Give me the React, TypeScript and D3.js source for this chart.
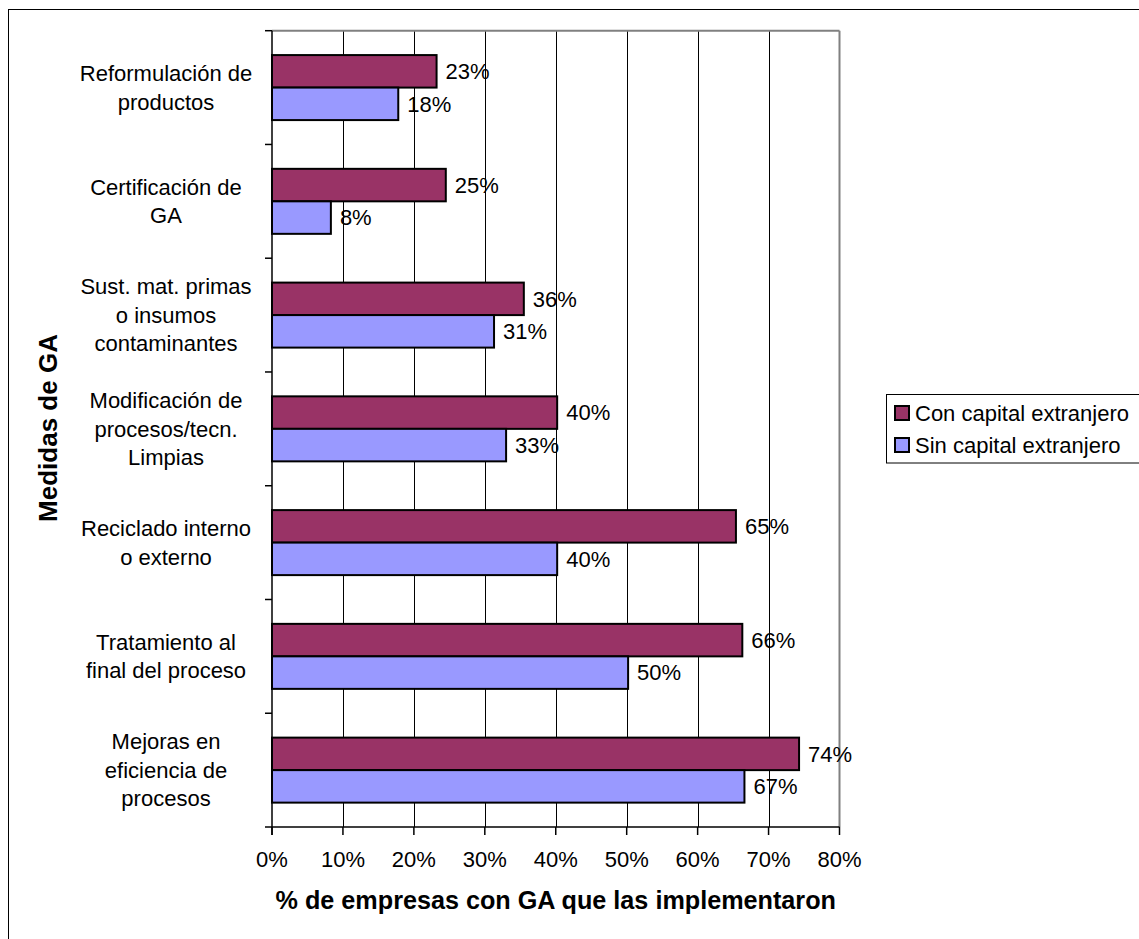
import React from "react";
import * as d3 from "d3";

const categories: string[] = [
  "Reformulación de\nproductos",
  "Certificación de\nGA",
  "Sust. mat. primas\no insumos\ncontaminantes",
  "Modificación de\nprocesos/tecn.\nLimpias",
  "Reciclado interno\no externo",
  "Tratamiento al\nfinal del proceso",
  "Mejoras en\neficiencia de\nprocesos",
];
const conCapital: number[] = [23.2, 24.5, 35.5, 40.2, 65.4, 66.3, 74.3];
const sinCapital: number[] = [17.8, 8.3, 31.3, 33.0, 40.2, 50.2, 66.6];
const conLabels: string[] = ["23%", "25%", "36%", "40%", "65%", "66%", "74%"];
const sinLabels: string[] = ["18%", "8%", "31%", "33%", "40%", "50%", "67%"];
const seriesNames: string[] = ["Con capital extranjero", "Sin capital extranjero"];
const seriesColors: string[] = ["#993366", "#9999FF"];
const xTicks: number[] = [0, 10, 20, 30, 40, 50, 60, 70, 80];
const xTitle = "% de empresas con GA que las implementaron";
const yTitle = "Medidas de GA";

const W = 1139;
const H = 939;
const FONT = "Liberation Sans, Arial, sans-serif";

export default function App() {
  const left = 272;
  const right = 839.5;
  const top = 30.7;
  const bottom = 827;
  const x = d3.scaleLinear().domain([0, 80]).range([left, right]);
  const y = d3.scaleBand<string>().domain(categories).range([top, bottom]).padding(0);
  const bw = y.bandwidth();
  const barH = bw / 3.5;
  const pad = (bw - 2 * barH) / 2;
  const fs = 22;
  const tfs = 25.2;

  const series = [
    { values: conCapital, labels: conLabels, color: seriesColors[0], off: 0 },
    { values: sinCapital, labels: sinLabels, color: seriesColors[1], off: 1 },
  ];

  return (
    <div style={{ position: "absolute", left: 0, top: 0, width: W, height: H, overflow: "hidden", background: "#fff" }}>
      <svg width={W} height={H} style={{ display: "block", fontFamily: FONT }}>
        <rect x={8.5} y={9.5} width={1300} height={1200} fill="#fff" stroke="#000" strokeWidth={1} />
        {/* gridlines */}
        {xTicks.slice(1, -1).map((t) => (
          <line key={"g" + t} x1={Math.round(x(t)) + 0.5} x2={Math.round(x(t)) + 0.5} y1={top} y2={bottom} stroke="#000" strokeWidth={1} />
        ))}
        {/* plot border top/right */}
        <line x1={left} x2={right} y1={top} y2={top} stroke="#808080" strokeWidth={2} />
        <line x1={right} x2={right} y1={top} y2={bottom} stroke="#808080" strokeWidth={2} />
        {/* bars */}
        {series.map((s, si) =>
          categories.map((c, i) => {
            const y0 = (y(c) as number) + pad + s.off * barH;
            return (
              <g key={si + "-" + i}>
                <rect x={x(0)} y={y0} width={x(s.values[i]) - x(0)} height={barH} fill={s.color} stroke="#000" strokeWidth={2} />
                <text x={x(s.values[i]) + 9} y={y0 + barH / 2 + fs * 0.358} fontSize={fs} fill="#000">
                  {s.labels[i]}
                </text>
              </g>
            );
          })
        )}
        {/* axes */}
        <line x1={left} x2={left} y1={top} y2={bottom + 8} stroke="#000" strokeWidth={1.5} />
        <line x1={left - 7} x2={right} y1={bottom} y2={bottom} stroke="#000" strokeWidth={1.5} />
        {categories.map((c, i) => (
          <line key={"yt" + i} x1={left - 7} x2={left} y1={y(c) as number} y2={y(c) as number} stroke="#000" strokeWidth={1.5} />
        ))}
        {xTicks.map((t) => (
          <g key={"xt" + t}>
            <line x1={x(t)} x2={x(t)} y1={bottom} y2={bottom + 8} stroke="#000" strokeWidth={1.5} />
            <text x={x(t)} y={867} fontSize={fs} textAnchor="middle" fill="#000">
              {t + "%"}
            </text>
          </g>
        ))}
        {/* category labels */}
        {categories.map((c, i) => {
          const lines = c.split("\n");
          const cy = (y(c) as number) + bw / 2;
          const lh = 28.5;
          return (
            <text key={"cl" + i} x={166} fontSize={fs} textAnchor="middle" fill="#000">
              {lines.map((ln, j) => (
                <tspan key={j} x={166} y={cy + (j - (lines.length - 1) / 2) * lh + fs * 0.358}>
                  {ln}
                </tspan>
              ))}
            </text>
          );
        })}
        {/* titles */}
        <text x={(left + right) / 2} y={909} fontSize={tfs} fontWeight="bold" textAnchor="middle" fill="#000">
          {xTitle}
        </text>
        <text transform={`translate(${48 + tfs * 0.358},428) rotate(-90)`} fontSize={26} fontWeight="bold" textAnchor="middle" fill="#000">
          {yTitle}
        </text>
        {/* legend */}
        <rect x={886.5} y={394.5} width={300} height={68.5} fill="#fff" stroke="#000" strokeWidth={1} />
        {seriesNames.map((n, i) => {
          const cy = 413 + i * 32;
          return (
            <g key={"lg" + i}>
              <rect x={895} y={cy - 7} width={14} height={14} fill={seriesColors[i]} stroke="#000" strokeWidth={2} />
              <text x={915} y={cy + fs * 0.358} fontSize={fs} fill="#000">
                {n}
              </text>
            </g>
          );
        })}
      </svg>
    </div>
  );
}
